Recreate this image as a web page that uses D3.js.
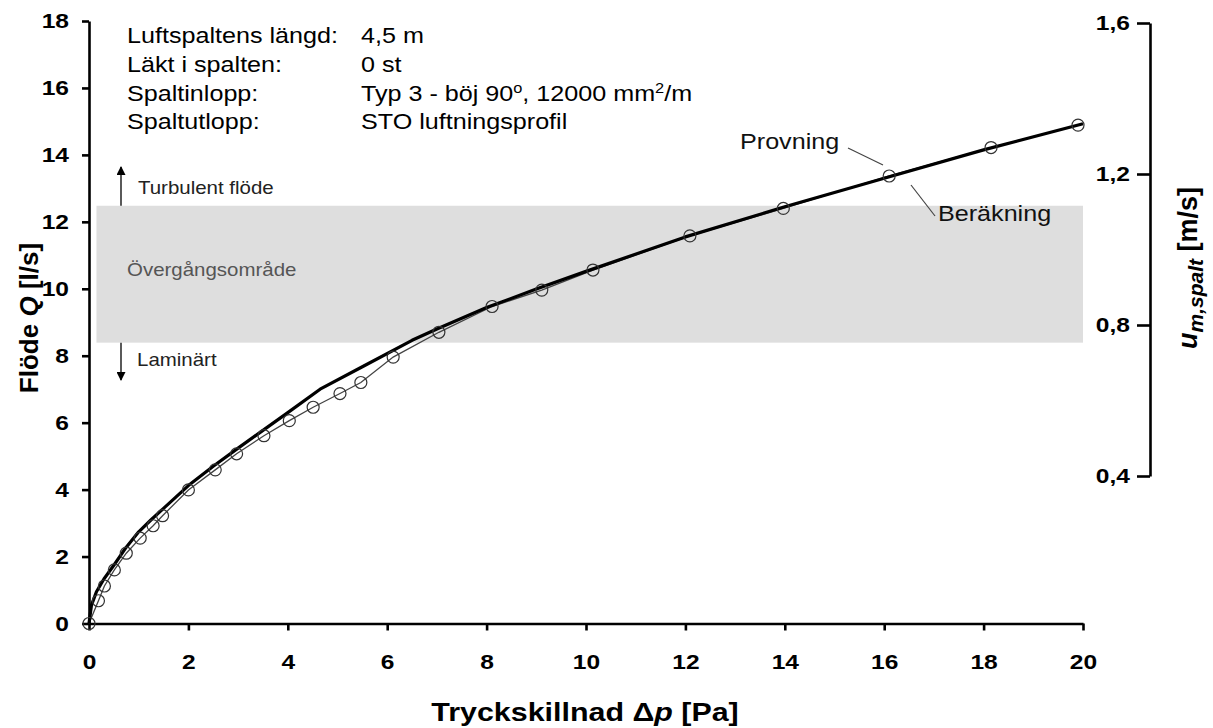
<!DOCTYPE html>
<html><head><meta charset="utf-8">
<script src="https://cdn.jsdelivr.net/npm/d3@7"></script>
<style>body{margin:0;background:#fff}svg{display:block;font-family:"Liberation Sans",Arial,sans-serif}</style>
</head><body><svg id="c" width="1213" height="728"></svg>
<script>
// ---- data ----
const provX = [0, 0.19, 0.31, 0.51, 0.75, 1.03, 1.29, 1.48, 2.0, 2.54, 2.97, 3.52, 4.03, 4.51, 5.05, 5.47, 6.12, 7.04, 8.11, 9.11, 10.14, 12.09, 13.97, 16.1, 18.15, 19.9];
const provQ = [0, 0.68, 1.12, 1.6, 2.1, 2.55, 2.92, 3.22, 3.99, 4.59, 5.07, 5.61, 6.06, 6.46, 6.87, 7.2, 7.96, 8.7, 9.47, 9.96, 10.56, 11.58, 12.4, 13.37, 14.22, 14.89];
const calcX = [0, 0.05, 0.15, 0.3, 0.5, 0.75, 1.0, 1.25, 1.5, 2.0, 2.5, 3.0, 3.5, 4.0, 4.65, 5.5, 6.5, 7.0, 8.0, 9.0, 10.0, 12.0, 14.0, 16.0, 18.0, 20.0];
const calcQ = [0, 0.55, 0.95, 1.33, 1.74, 2.28, 2.74, 3.1, 3.44, 4.12, 4.7, 5.24, 5.77, 6.3, 7.0, 7.67, 8.46, 8.8, 9.44, 9.99, 10.52, 11.55, 12.45, 13.3, 14.15, 14.93];
const xTicks = [0, 2, 4, 6, 8, 10, 12, 14, 16, 18, 20];
const yTicks = [0, 2, 4, 6, 8, 10, 12, 14, 16, 18];
const uTicks = [0.4, 0.8, 1.2, 1.6];
const bandQ = [8.39, 12.48];
const infoLabels = ["Luftspaltens längd:", "Läkt i spalten:", "Spaltinlopp:", "Spaltutlopp:"];
const infoValues = [
  [{t: "4,5 m"}],
  [{t: "0 st"}],
  [{t: "Typ 3 - böj 90"}, {t: "o", sup: true}, {t: ", 12000 mm"}, {t: "2", sup: true}, {t: "/m"}],
  [{t: "STO luftningsprofil"}]
];

// ---- setup ----
const SX = 1.17;
const svg = d3.select("#c");
svg.append("rect").attr("width", 1213).attr("height", 728).attr("fill", "#fff");
const x = d3.scaleLinear().domain([0, 20]).range([89, 1083]);
const y = d3.scaleLinear().domain([0, 18]).range([623.5, 21]);
const u = d3.scaleLinear().domain([0.4, 1.6]).range([476, 23]);

function stext(px, py, size, opts = {}) {
  const g = svg.append("g").attr("transform", `translate(${px},${py}) scale(${SX},1)`);
  return g.append("text").attr("font-size", size)
    .attr("text-anchor", opts.anchor || "start")
    .attr("font-weight", opts.weight || "normal")
    .attr("fill", opts.fill || "#000");
}

// band
svg.append("rect")
  .attr("x", x(0.15)).attr("width", x(20) - x(0.15))
  .attr("y", y(bandQ[1])).attr("height", y(bandQ[0]) - y(bandQ[1]))
  .attr("fill", "#dedede");

// axes
function styleAxis(g) {
  g.select(".domain").attr("stroke", "#000").attr("stroke-width", 2.6);
  g.selectAll(".tick line").attr("stroke", "#000").attr("stroke-width", 2.6);
  g.selectAll(".tick text").attr("font-size", 21).attr("font-weight", "bold")
    .attr("font-family", '"Liberation Sans",Arial,sans-serif').attr("fill", "#000")
    .each(function () {
      const t = d3.select(this);
      const tx = +t.attr("x") || 0;
      t.attr("x", 0).attr("transform", `translate(${tx},0) scale(${SX},1)`);
    });
}
svg.append("g").attr("transform", `translate(${x(0)},0)`)
  .call(d3.axisLeft(y).tickValues(yTicks).tickSize(7).tickSizeOuter(0).tickPadding(13).tickFormat(d3.format("d")))
  .call(styleAxis);
svg.append("g").attr("transform", `translate(0,${y(0)})`)
  .call(d3.axisBottom(x).tickValues(xTicks).tickSize(7).tickSizeOuter(0).tickPadding(24).tickFormat(d3.format("d")))
  .call(styleAxis);
svg.append("g").attr("transform", `translate(1150,0)`)
  .call(d3.axisLeft(u).tickValues(uTicks).tickSize(13).tickSizeOuter(0).tickPadding(7).tickFormat(d => d3.format(".1f")(d).replace(".", ",")))
  .call(styleAxis);

// lines
const line = d3.line().x(d => x(d[0])).y(d => y(d[1]));
const provData = provX.map((v, i) => [v, provQ[i]]);
const calcData = calcX.map((v, i) => [v, calcQ[i]]);
svg.append("path").datum(provData).attr("d", line)
  .attr("fill", "none").attr("stroke", "#444").attr("stroke-width", 1.3);
svg.append("path").datum(calcData).attr("d", line)
  .attr("fill", "none").attr("stroke", "#000").attr("stroke-width", 3.2).attr("stroke-linejoin", "round");
svg.append("g").selectAll("circle").data(provData).join("circle")
  .attr("cx", d => x(d[0])).attr("cy", d => y(d[1])).attr("r", 6)
  .attr("fill", "none").attr("stroke", "#333").attr("stroke-width", 1.2);

// info block
infoLabels.forEach((lab, i) => {
  const by = 43 + i * 28.8;
  stext(127, by, 21.5).text(lab);
  const t = stext(361, by, 21.5);
  let raised = false;
  infoValues[i].forEach(seg => {
    const sp = t.append("tspan").text(seg.t);
    if (seg.sup) { sp.attr("font-size", 14).attr("dy", -8); raised = true; }
    else if (raised) { sp.attr("dy", 8); raised = false; }
  });
});

// regime annotations
const defs = svg.append("defs");
defs.append("marker").attr("id", "ah").attr("viewBox", "0 0 10 10").attr("refX", 9).attr("refY", 5)
  .attr("markerWidth", 11).attr("markerHeight", 9).attr("markerUnits", "userSpaceOnUse").attr("orient", "auto")
  .append("path").attr("d", "M0,0 L10,5 L0,10 z").attr("fill", "#000");
svg.append("line").attr("x1", 121).attr("x2", 121).attr("y1", y(bandQ[1])).attr("y2", 167)
  .attr("stroke", "#000").attr("stroke-width", 1.3).attr("marker-end", "url(#ah)");
svg.append("line").attr("x1", 121).attr("x2", 121).attr("y1", y(bandQ[0])).attr("y2", 380)
  .attr("stroke", "#000").attr("stroke-width", 1.3).attr("marker-end", "url(#ah)");
stext(138, 194, 17.5, {fill: "#222"}).text("Turbulent flöde");
stext(127, 276, 17.5, {fill: "#555"}).text("Övergångsområde");
stext(137, 366, 17.5, {fill: "#222"}).text("Laminärt");

// series labels
stext(740, 149, 21.5, {fill: "#111"}).text("Provning");
stext(938, 221, 21.5, {fill: "#111"}).text("Beräkning");
svg.append("line").attr("x1", 848).attr("y1", 148).attr("x2", 883).attr("y2", 165).attr("stroke", "#444").attr("stroke-width", 1.2);
svg.append("line").attr("x1", 911).attr("y1", 185).attr("x2", 935).attr("y2", 216).attr("stroke", "#444").attr("stroke-width", 1.2);

// axis titles
const xt = stext(585, 721, 26, {anchor: "middle", weight: "bold"});
xt.append("tspan").text("Tryckskillnad Δ");
xt.append("tspan").attr("font-style", "italic").text("p");
xt.append("tspan").text(" [Pa]");

const yt = svg.append("text").attr("transform", "translate(38,318) rotate(-90)")
  .attr("text-anchor", "middle").attr("font-size", 26).attr("font-weight", "bold");
yt.append("tspan").text("Flöde ");
yt.append("tspan").attr("font-style", "italic").text("Q");
yt.append("tspan").text(" [l/s]");

const ut = svg.append("text").attr("transform", "translate(1197,268) rotate(-90)")
  .attr("text-anchor", "middle").attr("font-size", 27).attr("font-weight", "bold");
ut.append("tspan").attr("font-style", "italic").text("u");
ut.append("tspan").attr("font-style", "italic").attr("font-size", 21).attr("dy", 6).text("m,spalt");
ut.append("tspan").attr("dy", -6).text(" [m/s]");
</script></body></html>
